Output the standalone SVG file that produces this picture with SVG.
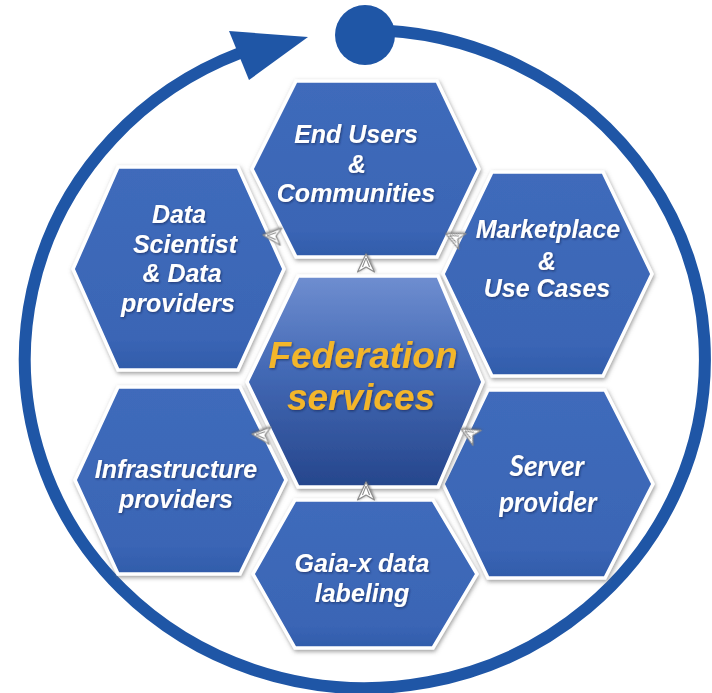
<svg xmlns="http://www.w3.org/2000/svg" width="712" height="693" viewBox="0 0 712 693">
  <defs>
    <linearGradient id="hexFill" x1="0" y1="0" x2="0" y2="1">
      <stop offset="0" stop-color="#3F6BBB"/>
      <stop offset="0.85" stop-color="#3A65B5"/>
      <stop offset="1" stop-color="#315CAA"/>
    </linearGradient>
    <linearGradient id="coreFill" x1="0" y1="0" x2="0" y2="1">
      <stop offset="0" stop-color="#6F8ED0"/>
      <stop offset="0.45" stop-color="#4369B5"/>
      <stop offset="1" stop-color="#26468C"/>
    </linearGradient>
    <filter id="hexShadow" x="-10%" y="-10%" width="120%" height="125%">
      <feDropShadow dx="1" dy="2" stdDeviation="2.2" flood-color="#6d6d6d" flood-opacity="0.65"/>
    </filter>
    <filter id="textShadow" x="-10%" y="-20%" width="120%" height="140%">
      <feDropShadow dx="1" dy="1.2" stdDeviation="0.9" flood-color="#14244a" flood-opacity="0.6"/>
    </filter>
    <filter id="tagShadow" x="-40%" y="-40%" width="180%" height="180%">
      <feDropShadow dx="0.5" dy="1" stdDeviation="0.8" flood-color="#555" flood-opacity="0.6"/>
    </filter>
    <!-- small flow marker, pointing along +x -->
    <g id="flowTag">
      <path d="M10 0 L-8 -8.5 L-3 0 L-8 8.5 Z"/>
      <path d="M6 0 L-3 -3.5 M6 0 L-3 3.5" fill="none"/>
    </g>
  </defs>
  <style>
    .hex { fill: url(#hexFill); stroke: #ffffff; stroke-width: 3.5; stroke-linejoin: miter; filter: url(#hexShadow); }
    .core { fill: url(#coreFill); stroke: #ffffff; stroke-width: 3.5; filter: url(#hexShadow); }
    .label { font-family: "Liberation Sans", Arial, sans-serif; font-weight: bold; font-style: italic; font-size: 25px; fill: #ffffff; text-anchor: middle; filter: url(#textShadow); }
    .label-alt { font-family: Lato, "Open Sans", sans-serif; font-weight: bold; font-style: italic; font-size: 28px; fill: #ffffff; text-anchor: middle; filter: url(#textShadow); }
    .title { font-family: "Liberation Sans", Arial, sans-serif; font-weight: bold; font-style: italic; font-size: 37px; fill: #F3B62B; text-anchor: middle; filter: url(#textShadow); }
    .ring { fill: none; stroke: #1F56A6; stroke-width: 12; }
    .ring-fill { fill: #1F56A6; }
    .tag { fill: #ffffff; stroke: #8c8c8c; stroke-width: 1.2; stroke-linejoin: round; filter: url(#tagShadow); }
  </style>

  <rect width="712" height="693" fill="#ffffff"/>

  <!-- outer cycle ring with start dot and arrowhead -->
  <g id="cycle">
    <path class="ring" d="M365 30 A340 329 0 1 1 240 53"/>
    <circle class="ring-fill" cx="365" cy="35" r="30"/>
    <polygon class="ring-fill" points="229,31 308,37 249,80"/>
  </g>

  <g id="end-users">
    <polygon class="hex" points="296,81 437,81 479,169 437,257 296,257 252,169"/>
    <text class="label" x="356" y="143">End Users</text>
    <text class="label" x="357" y="173">&amp;</text>
    <text class="label" x="356" y="202">Communities</text>
  </g>

  <g id="data-scientist">
    <polygon class="hex" points="118,167 238,167 284,269 238,370 118,370 73,269"/>
    <text class="label" x="179" y="223">Data</text>
    <text class="label" x="185" y="253">Scientist</text>
    <text class="label" x="182" y="282">&amp; Data</text>
    <text class="label" x="178" y="312">providers</text>
  </g>

  <g id="marketplace">
    <polygon class="hex" points="492,172 603,172 652,274 603,376 492,376 443,274"/>
    <text class="label" x="548" y="238">Marketplace</text>
    <text class="label" x="547" y="270">&amp;</text>
    <text class="label" x="547" y="297">Use Cases</text>
  </g>

  <g id="infrastructure">
    <polygon class="hex" points="118,387 240,387 286,480 240,574 118,574 75,480"/>
    <text class="label" x="176" y="478">Infrastructure</text>
    <text class="label" x="176" y="508">providers</text>
  </g>

  <g id="server-provider">
    <polygon class="hex" points="488,390 605,390 653,484 605,578 488,578 443,484"/>
    <text class="label-alt" x="547" y="476">Server</text>
    <text class="label-alt" x="548" y="512">provider</text>
  </g>

  <g id="gaia-x">
    <polygon class="hex" points="295,500 433,500 477,574 433,648 295,648 253,574"/>
    <text class="label" x="362" y="572">Gaia-x data</text>
    <text class="label" x="362" y="602">labeling</text>
  </g>

  <g id="federation-services">
    <polygon class="core" points="298,276 438,276 483,382 438,487 298,487 247,382"/>
    <text class="title" x="363" y="368">Federation</text>
    <text class="title" x="361" y="410">services</text>
  </g>

  <!-- flow markers in the gaps between cells -->
  <g id="connectors">
    <use class="tag" href="#flowTag" transform="translate(366,264) rotate(-90)"/>
    <use class="tag" href="#flowTag" transform="translate(273,236) rotate(185)"/>
    <use class="tag" href="#flowTag" transform="translate(455,238) rotate(205)"/>
    <use class="tag" href="#flowTag" transform="translate(262,435) rotate(185)"/>
    <use class="tag" href="#flowTag" transform="translate(470,434) rotate(209)"/>
    <use class="tag" href="#flowTag" transform="translate(366,492) rotate(-90)"/>
  </g>
</svg>
